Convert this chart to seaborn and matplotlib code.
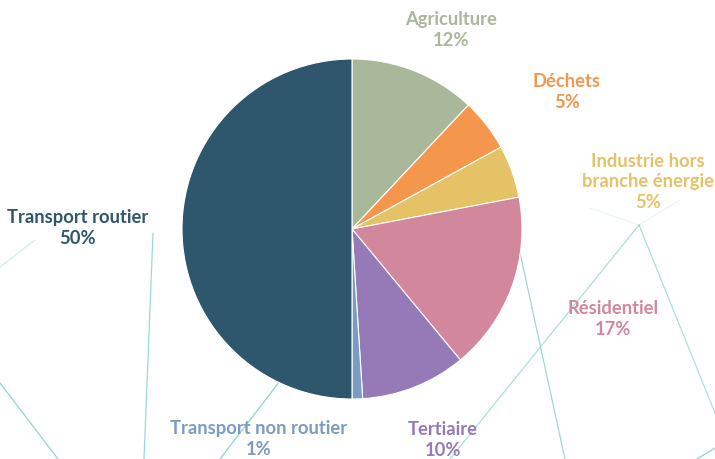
import matplotlib
matplotlib.use('Agg')
from matplotlib import pyplot as plt
from matplotlib.lines import Line2D
import seaborn as sns

secteurs = ['Agriculture', 'Déchets', 'Industrie hors\nbranche énergie', 'Résidentiel',
            'Tertiaire', 'Transport non routier', 'Transport routier']
parts = [12, 5, 5, 17, 10, 1, 50]
couleurs = ['#A9B89B', '#F4964C', '#E6C267', '#D3879D', '#957AB7', '#7B9CC1', '#2E566D']

sns.set_theme(style='white')
plt.rcParams['font.family'] = ['Lato', 'DejaVu Sans']

W, H = 715, 459
fig = plt.figure(figsize=(W / 100, H / 100), dpi=100)

# lignes décoratives du fond (coordonnées en pixels de l'image)
deco = [((0, 383), (58, 459), 0.8), ((0, 267), (35, 240), 0.3), ((153, 233), (144, 459), 0.7),
        ((290, 368), (220, 459), 0.8), ((639, 225), (450, 459), 0.6), ((639, 225), (715, 413), 0.6),
        ((639, 225), (590, 208), 0.15), ((639, 225), (680, 200), 0.15), ((515, 230), (565, 459), 0.7),
        ((715, 448), (697, 459), 0.8)]
for (x0, y0), (x1, y1), a in deco:
    fig.add_artist(Line2D([x0 / W, x1 / W], [1 - y0 / H, 1 - y1 / H],
                          color='#6FCBC1', lw=0.9, alpha=a, zorder=0))

cx, cy, r = 352, 229, 170
ax = fig.add_axes([(cx - r) / W, (H - cy - r) / H, 2 * r / W, 2 * r / H])
ax.pie(parts, colors=couleurs, startangle=90, counterclock=False, radius=1,
       wedgeprops=dict(linewidth=0.8, edgecolor='white'))
ax.set_xlim(-1, 1)
ax.set_ylim(-1, 1)
ax.set_zorder(1)
ax.axis('off')

# position des étiquettes (pixels)
pos = [(451, 30), (567, 92), (648, 182), (613, 319), (443, 440), (259, 439), (78, 228)]
for nom, p, c, (x, y) in zip(secteurs, parts, couleurs, pos):
    fig.text(x / W, 1 - y / H, f'{nom}\n{p}%', color=c, fontsize=13.2, fontweight='bold',
             ha='center', va='center', linespacing=1.25)

plt.savefig('out.png', dpi=100)
